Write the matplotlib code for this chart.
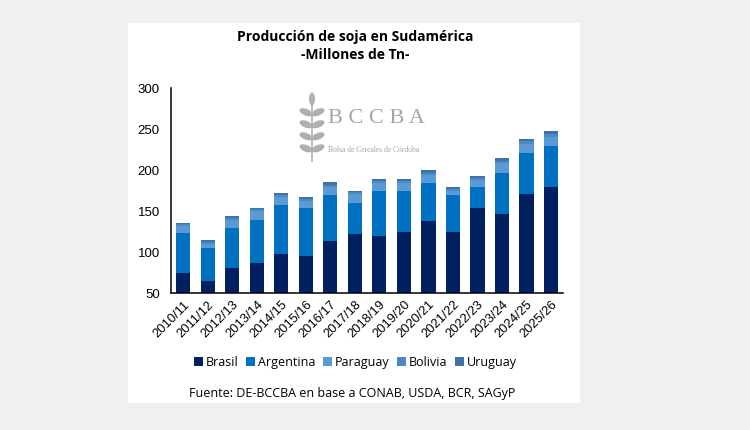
import matplotlib.pyplot as plt
import numpy as np
from matplotlib.patches import Rectangle, Ellipse

campanias = ["2010/11", "2011/12", "2012/13", "2013/14", "2014/15", "2015/16",
             "2016/17", "2017/18", "2018/19", "2019/20", "2020/21", "2021/22",
             "2022/23", "2023/24", "2024/25", "2025/26"]
brasil = [75, 65, 81, 86, 97, 95, 114, 122.5, 119, 125, 138, 125, 154, 146.5, 171, 179.5]
argentina = [48.5, 40, 48.3, 53, 60.5, 59, 56, 37.7, 56, 49, 46.5, 44, 25, 50, 50, 50]
paraguay = [8.6, 4.8, 10.1, 11, 10, 7.8, 9, 10.5, 9.6, 9.6, 9.5, 5.6, 9.4, 11.5, 10.6, 11]
bolivia = [2.0, 2.8, 2.5, 2.0, 2.1, 3.0, 3.2, 2.1, 2.5, 2.4, 2.8, 2.8, 2.1, 3.3, 3.2, 3.6]
uruguay = [1.3, 2.0, 2.0, 1.7, 2.5, 2.0, 2.8, 1.6, 2.4, 3.3, 3.2, 2.1, 2.0, 3.2, 3.3, 3.3]

series = [("Brasil", brasil, "#002060"),
          ("Argentina", argentina, "#0070C0"),
          ("Paraguay", paraguay, "#5B9BD5"),
          ("Bolivia", bolivia, "#4A88C8"),
          ("Uruguay", uruguay, "#3F72A6")]

fig = plt.figure(figsize=(7.5, 4.3), dpi=100, facecolor="#f0f0f0")
# white panel
fig.patches.append(Rectangle((0.1707, 0.0628), 0.6026, 0.8837, transform=fig.transFigure,
                             facecolor="white", edgecolor="none", zorder=-10))

ax = fig.add_axes([0.228, 0.3186, 0.523, 0.4767])
ax.set_facecolor("none")
x = np.arange(len(campanias))
bottom = np.zeros(len(campanias))
for name, vals, col in series:
    ax.bar(x, vals, 0.58, bottom=bottom, color=col, label=name, zorder=2)
    bottom += np.array(vals)

ax.set_ylim(50, 300)
ax.set_xlim(-0.5, len(campanias) - 0.5)
ax.set_yticks([50, 100, 150, 200, 250, 300])
ax.set_xticks(x)
ax.set_xticklabels(campanias, rotation=45, ha="right", rotation_mode="anchor",
                   fontsize=9.3, family="Liberation Sans")
for lab in ax.get_yticklabels():
    lab.set_family("Liberation Sans")
    lab.set_fontsize(9.5)
ax.tick_params(axis="both", length=0, pad=8)
ax.tick_params(axis="x", pad=4)
for s in ["top", "right"]:
    ax.spines[s].set_visible(False)
ax.spines["left"].set_linewidth(1.1)
ax.spines["bottom"].set_linewidth(1.1)

fig.text(0.473, 0.893, "Producción de soja en Sudamérica\n-Millones de Tn-",
         ha="center", va="center", fontsize=10, fontweight="bold",
         family="Open Sans", linespacing=1.3)

ax.legend(loc="center", bbox_to_anchor=(0.47, -0.337), ncol=5, frameon=False,
          handlelength=0.7, handleheight=0.7, handletextpad=0.25,
          columnspacing=0.6, prop={"family": "Open Sans", "size": 9})

fig.text(0.47, 0.086, "Fuente: DE-BCCBA en base a CONAB, USDA, BCR, SAGyP",
         ha="center", va="center", fontsize=9, family="Open Sans")

# watermark logo
fig.text(0.437, 0.725, "B C C B A", ha="left", va="center", fontsize=16,
         family="Liberation Serif", color="#a6a6a6")
fig.text(0.437, 0.652, "Bolsa de Cereales de Córdoba", ha="left", va="center",
         fontsize=5.5, family="Liberation Serif", color="#a6a6a6")
cx, cy = 0.416, 0.705
fig.lines.append(plt.Line2D([cx, cx], [cy - 0.08, cy + 0.06], transform=fig.transFigure,
                            color="#b0b0b0", lw=1.2))
for i in range(4):
    yy = cy - 0.05 + i * 0.028
    for side in (-1, 1):
        fig.patches.append(Ellipse((cx + side * 0.008, yy), 0.013, 0.022,
                                   angle=-side * 40, transform=fig.transFigure,
                                   facecolor="#b0b0b0", edgecolor="none"))
fig.patches.append(Ellipse((cx, cy + 0.065), 0.008, 0.03, transform=fig.transFigure,
                           facecolor="#b0b0b0", edgecolor="none"))

fig.savefig("out.png", dpi=100, facecolor=fig.get_facecolor())
